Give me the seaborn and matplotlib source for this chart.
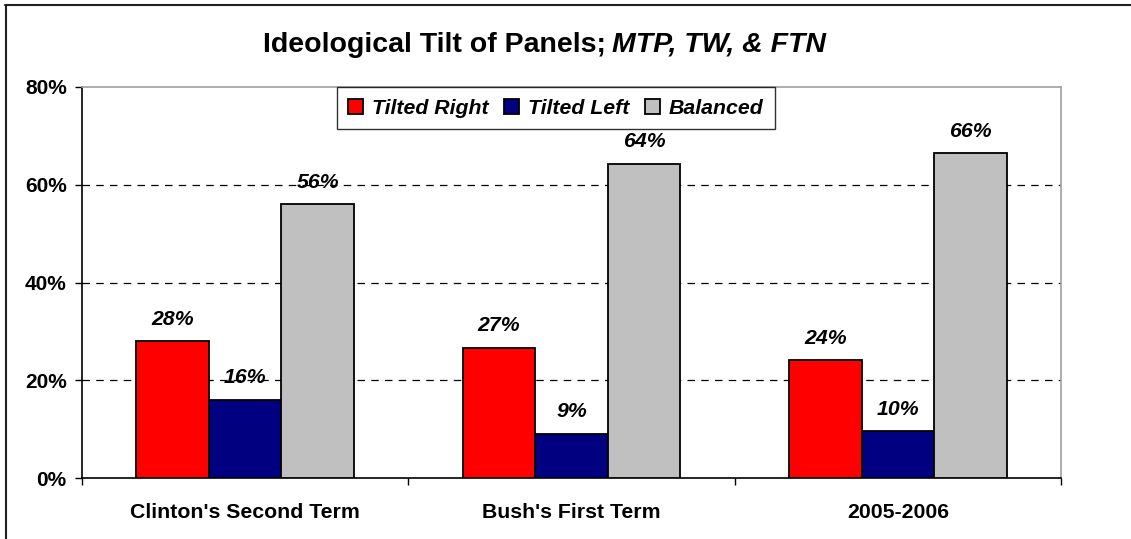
import pandas as pd
import numpy as np
import matplotlib
matplotlib.use("Agg")
import matplotlib.pyplot as plt
from matplotlib.lines import Line2D
import seaborn as sns

# data
periods = ["Clinton's Second Term", "Bush's First Term", "2005-2006"]
series = ["Tilted Right", "Tilted Left", "Balanced"]
tilted_right = [28.0, 26.6, 24.1]
tilted_left = [16.0, 9.1, 9.6]
balanced = [56.0, 64.3, 66.4]
colors = ["#FF0000", "#000080", "#C0C0C0"]
y_ticks = [0, 20, 40, 60, 80]

df = pd.DataFrame({
    "period": periods * 3,
    "series": [s for s in series for _ in periods],
    "value": tilted_right + tilted_left + balanced,
})

sns.set_theme(style="white")
plt.rcParams["font.family"] = ["Liberation Sans", "DejaVu Sans"]
plt.rcParams["text.color"] = "black"
plt.rcParams["xtick.labelcolor"] = "black"
plt.rcParams["ytick.labelcolor"] = "black"

fig = plt.figure(figsize=(11.31, 5.39), dpi=100)
ax = fig.add_axes([82 / 1131, 1 - 478 / 539, (1061 - 82) / 1131, (478 - 87) / 539])

sns.barplot(data=df, x="period", y="value", hue="series", order=periods, hue_order=series,
            palette=colors, width=0.667, edgecolor="black", linewidth=1.3, saturation=1,
            ax=ax, zorder=3)

# value labels above the bars
for cont in ax.containers:
    ax.bar_label(cont, fmt="%.0f%%", padding=9, fontsize=15.3, fontweight="bold",
                 fontstyle="italic", color="black")

ax.set_xlim(-0.5, 2.5)
ax.set_ylim(0, 80)
ax.set_yticks(y_ticks)
ax.set_yticklabels([f"{t}%" for t in y_ticks], fontsize=15, fontweight="bold")
ax.set_xticks(range(len(periods)))
ax.set_xticklabels(periods, fontsize=15.3, fontweight="bold")
ax.set_xticks([-0.5, 0.5, 1.5, 2.5], minor=True)
ax.tick_params(axis="x", which="major", length=0, pad=18)
ax.tick_params(axis="x", which="minor", length=5, width=1, color="black", direction="out", bottom=True)
ax.tick_params(axis="y", length=5, width=1, color="black", direction="out", left=True, pad=6)
ax.set_xlabel("")
ax.set_ylabel("")

# dashed gridlines
for t in y_ticks[1:-1]:
    ax.axhline(t, color="black", linestyle=(0, (6, 5)), linewidth=0.9, zorder=1)

for side in ["left", "bottom"]:
    ax.spines[side].set_color("black")
    ax.spines[side].set_linewidth(1.2)
for side in ["top", "right"]:
    ax.spines[side].set_color("#A0A0A0")
    ax.spines[side].set_linewidth(1.2)

leg = ax.legend(loc="upper center", bbox_to_anchor=(0.484, 1.0), ncol=3, frameon=True,
                fancybox=False, edgecolor="black", borderpad=0.55, borderaxespad=0,
                handlelength=0.7, handleheight=0.7, handletextpad=0.4, columnspacing=0.75,
                prop={"size": 15.3, "weight": "bold", "style": "italic"})
leg.get_frame().set_linewidth(1.0)
leg.set_zorder(5)

# title in two parts: bold + bold italic
fig.text(606 / 1131, 1 - 52 / 539, "Ideological Tilt of Panels;", ha="right", va="baseline",
         fontsize=20.5, fontweight="bold")
fig.text(612 / 1131, 1 - 52 / 539, "MTP, TW, & FTN", ha="left", va="baseline",
         fontsize=20.5, fontweight="bold", fontstyle="italic")

# outer chart border (cut on the right and bottom like the reference)
fig.add_artist(Line2D([5 / 1131, 1.0], [1 - 5 / 539, 1 - 5 / 539], color="#202020", linewidth=1.5))
fig.add_artist(Line2D([6 / 1131, 6 / 1131], [0.0, 1 - 5 / 539], color="#202020", linewidth=1.5))

fig.savefig("out.png", dpi=100)
